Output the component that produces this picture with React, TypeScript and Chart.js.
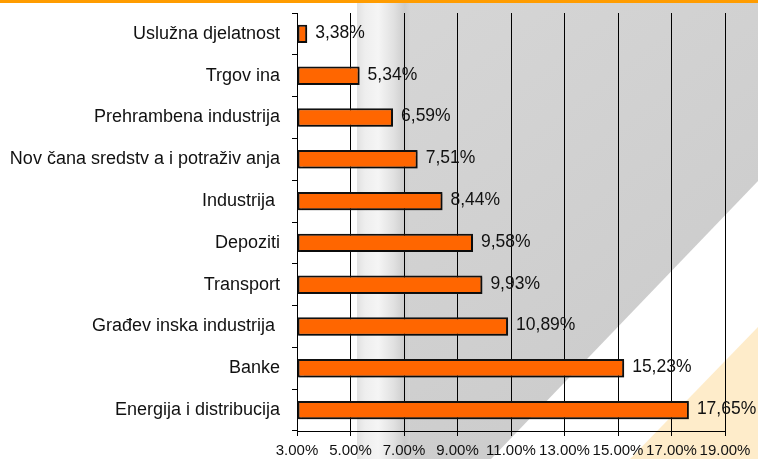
import React, { useEffect, useRef } from "react";
import { Chart, registerables } from "chart.js";

Chart.register(...registerables);

const categories = [
  "Uslužna djelatnost",
  "Trgov ina",
  "Prehrambena industrija",
  "Nov čana sredstv a i potraživ anja",
  "Industrija ",
  "Depoziti",
  "Transport",
  "Građev inska industrija ",
  "Banke",
  "Energija i distribucija",
];
const values = [3.38, 5.34, 6.59, 7.51, 8.44, 9.58, 9.93, 10.89, 15.23, 17.65];
const valueLabels = ["3,38%", "5,34%", "6,59%", "7,51%", "8,44%", "9,58%", "9,93%", "10,89%", "15,23%", "17,65%"];
const axisMin = 3;
const axisMax = 19;
const axisStep = 2;

const FONT = "'Liberation Sans', Arial, sans-serif";

const backgroundPlugin = {
  id: "bgShapes",
  beforeDraw(chart: any) {
    const ctx = chart.ctx;
    const W = chart.width;
    const H = chart.height;
    ctx.save();
    ctx.fillStyle = "#ffffff";
    ctx.fillRect(0, 0, W, H);
    const g = ctx.createLinearGradient(400, 0, 700, 400);
    g.addColorStop(0, "#d6d6d6");
    g.addColorStop(1, "#cbcbcb");
    ctx.fillStyle = g;
    ctx.beginPath();
    ctx.moveTo(405, 0);
    ctx.lineTo(W, 0);
    ctx.lineTo(W, 181);
    ctx.lineTo(491, H);
    ctx.lineTo(405, H);
    ctx.closePath();
    ctx.fill();
    const s = ctx.createLinearGradient(357, 0, 410, 0);
    s.addColorStop(0, "#e2e2e2");
    s.addColorStop(0.15, "#eeeeee");
    s.addColorStop(0.4, "#f5f5f5");
    s.addColorStop(0.7, "#e0e0e0");
    s.addColorStop(0.9, "#cccccc");
    s.addColorStop(1, "#d4d4d4");
    ctx.fillStyle = s;
    ctx.fillRect(357, 0, 53, H);
    ctx.fillStyle = "#feecca";
    ctx.beginPath();
    ctx.moveTo(W, 327);
    ctx.lineTo(W, H);
    ctx.lineTo(630, H);
    ctx.closePath();
    ctx.fill();
    ctx.fillStyle = "#ff9c00";
    ctx.fillRect(0, 0, W, 3);
    ctx.restore();
  },
};

const valueLabelPlugin = {
  id: "valueLabels",
  beforeDatasetsDraw(chart: any) {
    const ctx = chart.ctx;
    ctx.save();
    ctx.shadowColor = "rgba(0,0,0,0.3)";
    ctx.shadowOffsetX = 1.5;
    ctx.shadowOffsetY = 1.5;
    ctx.shadowBlur = 1;
  },
  afterDatasetsDraw(chart: any) {
    const ctx = chart.ctx;
    ctx.restore();
    const meta = chart.getDatasetMeta(0);
    ctx.save();
    ctx.font = `17.5px ${FONT}`;
    ctx.fillStyle = "#111111";
    ctx.textAlign = "left";
    ctx.textBaseline = "middle";
    meta.data.forEach((bar: any, i: number) => {
      ctx.fillText(valueLabels[i], bar.x + 8, bar.y - 1);
    });
    ctx.restore();
  },
};

export default function App() {
  const canvasRef = useRef<HTMLCanvasElement | null>(null);

  useEffect(() => {
    if (!canvasRef.current) return;
    const chart = new Chart(canvasRef.current, {
      type: "bar",
      data: {
        labels: categories,
        datasets: [
          {
            data: values,
            base: axisMin,
            backgroundColor: "#ff6600",
            borderColor: "#111111",
            borderWidth: 2,
            borderSkipped: false,
            barPercentage: 0.44,
            categoryPercentage: 1,
          } as any,
        ],
      },
      options: {
        indexAxis: "y",
        responsive: false,
        animation: false,
        devicePixelRatio: 1,
        layout: { padding: { left: 0, top: 13, right: 33, bottom: 0 } },
        plugins: {
          legend: { display: false },
          tooltip: { enabled: false },
        },
        scales: {
          x: {
            type: "linear",
            min: axisMin,
            max: axisMax,
            afterFit(scale: any) {
              scale.height = 28;
              scale.paddingLeft = 0;
              scale.paddingRight = 0;
            },
            ticks: {
              stepSize: axisStep,
              color: "#111111",
              font: { family: FONT, size: 15 },
              padding: 6,
              maxRotation: 0,
              minRotation: 0,
              autoSkip: false,
              callback: (v: any) => Number(v).toFixed(2) + "%",
            },
            grid: {
              color: "#000000",
              lineWidth: 1,
              tickLength: 5,
              drawOnChartArea: true,
            },
            border: { display: true, color: "#000000", width: 1 },
          },
          y: {
            type: "category",
            afterFit(scale: any) {
              scale.width = 297;
              scale.paddingTop = 0;
              scale.paddingBottom = 0;
            },
            ticks: {
              color: "#111111",
              font: { family: FONT, size: 18 },
              padding: 12,
            },
            grid: {
              color: "#000000",
              lineWidth: 1,
              tickLength: 5,
              drawOnChartArea: false,
              offset: true,
            },
            border: { display: true, color: "#000000", width: 1 },
          },
        },
      } as any,
      plugins: [backgroundPlugin, valueLabelPlugin],
    });
    return () => chart.destroy();
  }, []);

  return (
    <div style={{ position: "fixed", left: 0, top: 0, width: 758, height: 459 }}>
      <canvas ref={canvasRef} width={758} height={459} style={{ display: "block" }} />
    </div>
  );
}
